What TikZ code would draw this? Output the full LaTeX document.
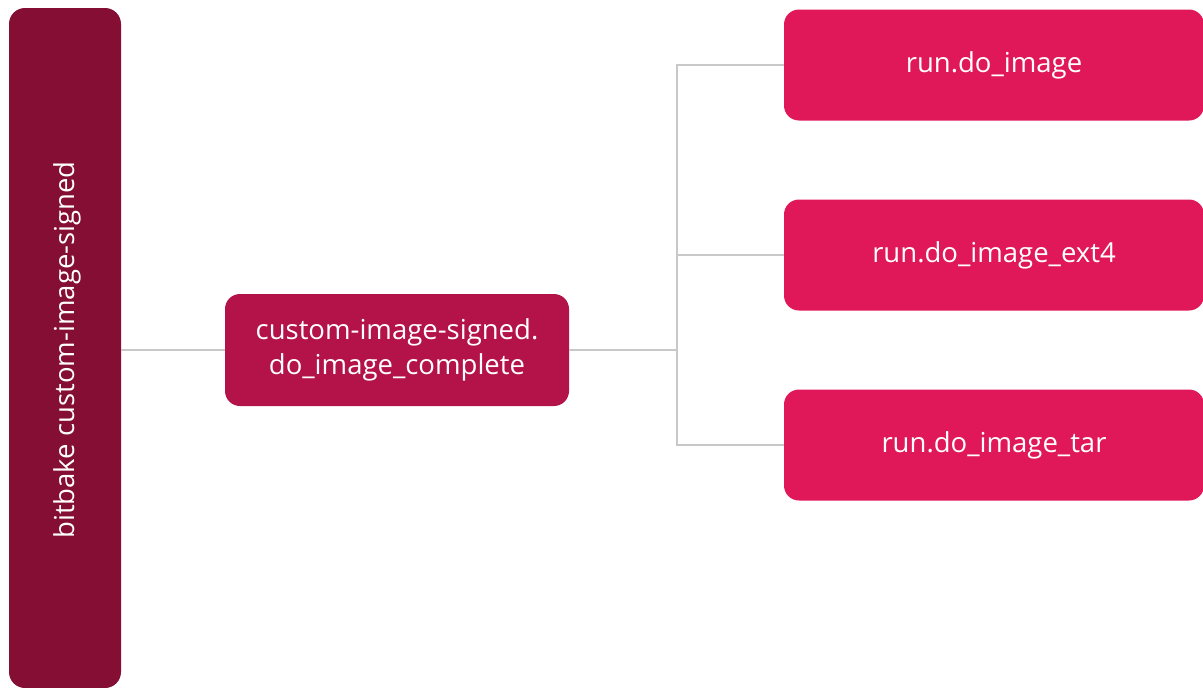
\documentclass[tikz,border=0pt]{standalone}
\usepackage{fontspec}
\setmainfont{Open Sans}
\definecolor{barcol}{HTML}{850E35}
\definecolor{midcol}{HTML}{B31349}
\definecolor{leafcol}{HTML}{E0185A}
\definecolor{linkcol}{HTML}{C8C8C8}
\begin{document}
\begin{tikzpicture}[x=1pt,y=-1pt,
  label font/.style={font=\fontsize{27.5}{35}\selectfont},
  box/.style={rounded corners=15pt, inner sep=0pt, text=white, label font, align=center},
  link/.style={draw=linkcol, line width=1.6pt}]
\useasboundingbox (0,0) rectangle (1203,688);
% tall command bar on the left
\fill[barcol, rounded corners=16pt] (9,8) rectangle (121,688);
\node[text=white, rotate=90, label font] (cmd) at (67,350) {bitbake custom-image-signed};
\coordinate (cmdout) at (121,350);
% central task
\node[box, fill=midcol, minimum width=344pt, minimum height=112pt] (mid) at (397,350) {custom-image-signed.\\do\_image\_complete};
% leaf tasks
\node[box, fill=leafcol, minimum width=420pt, minimum height=111pt] (t1) at (994,65) {run.do\_image};
\node[box, fill=leafcol, minimum width=420pt, minimum height=111pt] (t2) at (994,255) {run.do\_image\_ext4};
\node[box, fill=leafcol, minimum width=420pt, minimum height=111pt] (t3) at (994,445) {run.do\_image\_tar};
% connectors
\coordinate (fork) at (677,350);
\draw[link] (cmdout) -- (mid.west);
\draw[link] (mid.east) -- (fork);
\draw[link] (t1.west) -| (fork);
\draw[link] (t3.west) -| (fork);
\draw[link] (t2.west) -- (fork |- t2.west);
\end{tikzpicture}
\end{document}
